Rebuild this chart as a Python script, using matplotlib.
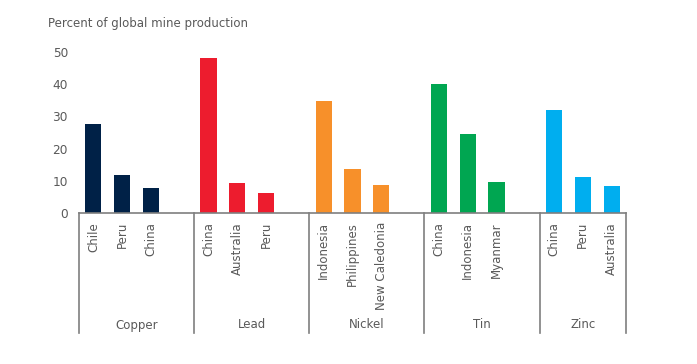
import matplotlib
matplotlib.use("Agg")
import matplotlib.pyplot as plt
from matplotlib.transforms import blended_transform_factory

metals = ["Copper", "Lead", "Nickel", "Tin", "Zinc"]
countries = [
    ["Chile", "Peru", "China"],
    ["China", "Australia", "Peru"],
    ["Indonesia", "Philippines", "New Caledonia"],
    ["China", "Indonesia", "Myanmar"],
    ["China", "Peru", "Australia"],
]
values = [
    [27.6, 11.8, 7.8],
    [48.1, 9.3, 6.2],
    [34.8, 13.7, 8.7],
    [40.1, 24.5, 9.6],
    [32.0, 11.2, 8.4],
]
colors = ["#002147", "#ED1C2E", "#F7902A", "#00A651", "#00AEEF"]
yticks = [0, 10, 20, 30, 40, 50]
ylabel = "Percent of global mine production"

grey = "#595959"
fig = plt.figure(figsize=(6.97, 3.64), dpi=100)
ax = fig.add_axes([79/697, 1-213/364, (626-79)/697, (213-45.6)/364])

slot = 4
for g, (m, cs, vs, col) in enumerate(zip(metals, countries, values, colors)):
    xs = [g*slot + i for i in range(len(vs))]
    ax.bar(xs, vs, width=0.56, color=col, zorder=2)

ax.set_xlim(-0.5, 18.5)
ax.set_ylim(0, 52)
ax.set_yticks(yticks)
ax.set_xticks([])
for s in ["top", "right", "left"]:
    ax.spines[s].set_visible(False)
ax.spines["bottom"].set_color("#7f7f7f")
ax.spines["bottom"].set_linewidth(1.2)
ax.tick_params(axis="y", length=0, labelsize=8.7, labelcolor=grey, pad=8)

trans = blended_transform_factory(ax.transData, ax.transAxes)
px = 0.72  # points per pixel
for g, cs in enumerate(countries):
    for i, c in enumerate(cs):
        ax.annotate(c, xy=(g*slot + i, 0), xycoords=trans,
                    xytext=(0, -9*px), textcoords="offset points",
                    rotation=90, ha="center", va="top",
                    fontsize=8.5, color=grey)
    ax.annotate(metals[g], xy=(g*slot + 1.5 if g < 4 else g*slot + 1, 0),
                xycoords=trans, xytext=(0, -112*px), textcoords="offset points",
                ha="center", va="center", fontsize=8.5, color=grey)

axes_h = 213 - 45.6
for xsep in [-0.5, 3.5, 7.5, 11.5, 15.5, 18.5]:
    ax.plot([xsep, xsep], [0, -120/axes_h], transform=trans, color="#7f7f7f",
            lw=1.2, clip_on=False)

fig.text(48/697, 1-24/364, ylabel, fontsize=8.5, color=grey, ha="left", va="center")

fig.savefig("out.png", dpi=100, facecolor="white")
